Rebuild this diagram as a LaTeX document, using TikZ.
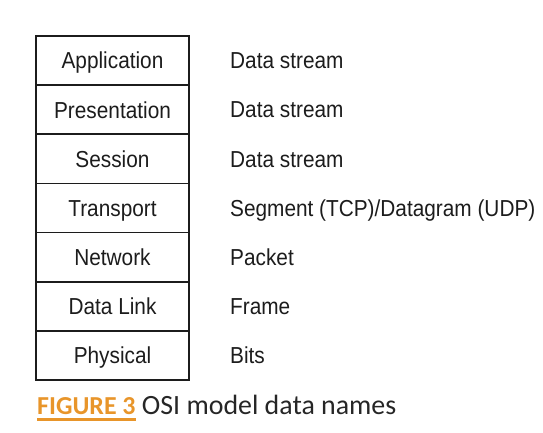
\documentclass[tikz,border=0pt]{standalone}
\usepackage{fontspec}
\setmainfont{Liberation Sans}
\newfontfamily\condfont[FakeStretch=0.9]{Liberation Sans}
\newfontfamily\capfont{Carlito}
\definecolor{figorange}{HTML}{E8952A}
\definecolor{inkcol}{HTML}{1C1C1C}
\definecolor{capcol}{HTML}{262626}
\newcommand\myuline[1]{\setbox0\hbox{#1}\rlap{\vrule height -3.5bp depth 6.3bp width \wd0}\box0}
\tikzset{
  layer/.style={draw=inkcol, line width=1.6bp, minimum width=153bp, minimum height=49.14bp,
    inner sep=0pt, text height=16.7bp, text depth=0bp, text=inkcol, font=\condfont\fontsize{23.2}{26}\selectfont},
  dataname/.style={anchor=base west, inner sep=0pt, text=inkcol, font=\condfont\fontsize{23.2}{26}\selectfont},
  captxt/.style={anchor=base west, inner sep=0pt, font=\capfont\fontsize{26}{30}\selectfont}
}
\begin{document}
\begin{tikzpicture}[x=1bp,y=-1bp]
\useasboundingbox (0,0) rectangle (543,433);
\node[layer] (l7) at (112.5,60.57) {Application};
\node[layer] (l6) at (112.5,109.71) {Presentation};
\node[layer] (l5) at (112.5,158.85) {Session};
\node[layer] (l4) at (112.5,207.99) {Transport};
\node[layer] (l3) at (112.5,257.13) {Network};
\node[layer] (l2) at (112.5,306.27) {Data Link};
\node[layer] (l1) at (112.5,355.41) {Physical};
\node[dataname] (d7) at (230,68.9) {Data stream};
\node[dataname] (d6) at (230,118.0) {Data stream};
\node[dataname] (d5) at (230,167.2) {Data stream};
\node[dataname] (d4) at (230,216.3) {Segment (TCP)/Datagram (UDP)};
\node[dataname] (d3) at (230,265.5) {Packet};
\node[dataname] (d2) at (230,314.6) {Frame};
\node[dataname] (d1) at (230,363.7) {Bits};
\node[captxt] (cap) at (37,414.5) {\textcolor{figorange}{\myuline{\textbf{FIGURE 3}}}\textcolor{capcol}{\fontsize{28}{30}\selectfont\ OSI model data names}};
\end{tikzpicture}
\end{document}
